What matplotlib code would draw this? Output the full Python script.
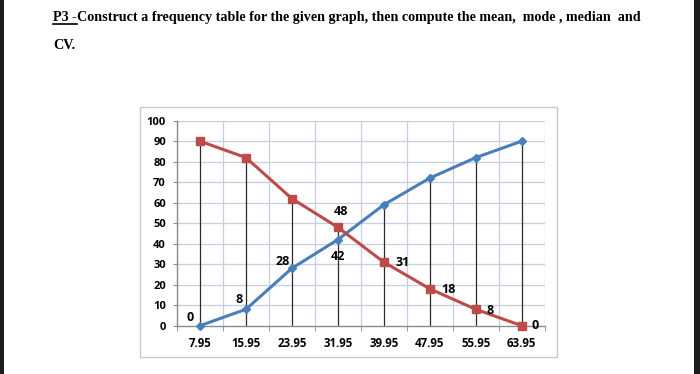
import matplotlib
matplotlib.use('Agg')
import matplotlib.pyplot as plt
from matplotlib.patches import Rectangle
from matplotlib.lines import Line2D

# ---- data ----
categories = ['7.95', '15.95', '23.95', '31.95', '39.95', '47.95', '55.95', '63.95']
less_than = [0, 8, 28, 42, 59, 72, 82, 90]
more_than = [90, 82, 62, 48, 31, 18, 8, 0]
y_ticks = [0, 10, 20, 30, 40, 50, 60, 70, 80, 90, 100]
title_line1 = "Construct a frequency table for the given graph, then compute the mean,  mode , median  and"
title_prefix = "P3 -"
title_line2 = "CV."

W, H = 700, 374
fig = plt.figure(figsize=(7.0, 3.74), dpi=100)
fig.patch.set_facecolor('white')

def fx(px):
    return px / W

def fy(py):
    return 1 - py / H

# dark side bars of the screenshot
fig.patches.append(Rectangle((0, 0), fx(4), 1, transform=fig.transFigure,
                             facecolor='#1c1c1c', edgecolor='none', zorder=0))
fig.patches.append(Rectangle((fx(694), 0), fx(6), 1, transform=fig.transFigure,
                             facecolor='#1c1c1c', edgecolor='none', zorder=0))

# chart outer frame
fig.patches.append(Rectangle((fx(140), fy(357)), fx(557 - 140), (357 - 107) / H,
                             transform=fig.transFigure, facecolor='white',
                             edgecolor='#c8c8c8', linewidth=1.0, zorder=0))

# title text
serif = 'Liberation Serif'
tsize = 10.15
t1 = fig.text(fx(53), fy(21), title_prefix, fontsize=tsize, fontweight='bold',
              family=serif, va='baseline', ha='left')
fig.canvas.draw()
r = fig.canvas.get_renderer()
bb = t1.get_window_extent(r)
fig.text(bb.x1 / W, fy(21), title_line1, fontsize=tsize, fontweight='bold',
         family=serif, va='baseline', ha='left')
fig.lines.append(Line2D([bb.x0 / W, bb.x1 / W], [fy(23.5), fy(23.5)],
                        transform=fig.transFigure, color='black', linewidth=1.2))
fig.text(fx(53), fy(49), title_line2, fontsize=tsize, fontweight='bold',
         family=serif, va='baseline', ha='left')

# ---- plot area ----
left, right, top, bottom = 177, 544.7, 120.7, 325.7
ax = fig.add_axes([fx(left), fy(bottom), fx(right - left), (bottom - top) / H])
ax.set_zorder(3)
ax.set_facecolor('none')
x = list(range(len(categories)))
ax.set_xlim(-0.5, len(categories) - 0.5)
ax.set_ylim(0, 100)

grid_c = '#c5cfe0'
for yv in y_ticks[1:]:
    ax.axhline(yv, color=grid_c, linewidth=0.9, zorder=1)
for i in range(len(categories) + 1):
    ax.axvline(i - 0.5, color=grid_c, linewidth=0.9, zorder=1)

# drop lines
for xi, a, b in zip(x, less_than, more_than):
    ax.plot([xi, xi], [0, max(a, b)], color='#2b2b2b', linewidth=0.9, zorder=2)

blue = '#4a7ebb'
red = '#be4b48'
ax.plot(x, less_than, color=blue, linewidth=2.2, marker='D', markersize=4.5,
        markerfacecolor=blue, markeredgecolor=blue, zorder=4, clip_on=False)
ax.plot(x, more_than, color=red, linewidth=2.2, marker='s', markersize=6,
        markerfacecolor=red, markeredgecolor=red, zorder=5, clip_on=False)

lab_font = dict(fontsize=9, fontweight='bold', family='Open Sans', color='black',
                ha='center', va='center', zorder=6)
k = 0.72
blue_offsets = {0: (-10, 8), 1: (-7, 10), 2: (-9, 7), 3: (0, -17)}
red_offsets = {3: (3, 16), 4: (19, 0), 5: (19, -1), 6: (14, -1), 7: (13, 0)}
for i, (dx, dy) in blue_offsets.items():
    ax.annotate(str(less_than[i]), (x[i], less_than[i]), xytext=(dx * k, dy * k),
                textcoords='offset points', **lab_font)
for i, (dx, dy) in red_offsets.items():
    ax.annotate(str(more_than[i]), (x[i], more_than[i]), xytext=(dx * k, dy * k),
                textcoords='offset points', **lab_font)

for s in ['top', 'right']:
    ax.spines[s].set_visible(False)
for s in ['left', 'bottom']:
    ax.spines[s].set_color('#8a8a8a')
    ax.spines[s].set_linewidth(1.0)

ax.set_yticks(y_ticks)
ax.set_yticklabels([str(v) for v in y_ticks])
ax.set_xticks(x)
ax.set_xticklabels(categories)
ax.set_xticks([i - 0.5 for i in range(len(categories) + 1)], minor=True)
ax.tick_params(axis='x', which='major', length=0, pad=8)
ax.tick_params(axis='x', which='minor', length=3.5, color='#8a8a8a', direction='out')
ax.tick_params(axis='y', length=3, color='#8a8a8a', direction='out', pad=5)
for lbl in ax.get_xticklabels():
    lbl.set_fontsize(8.3)
    lbl.set_fontweight('bold')
    lbl.set_family('Open Sans')
for lbl in ax.get_yticklabels():
    lbl.set_fontsize(8.0)
    lbl.set_fontweight('bold')
    lbl.set_family('Open Sans')

fig.savefig('out.png', dpi=100)
